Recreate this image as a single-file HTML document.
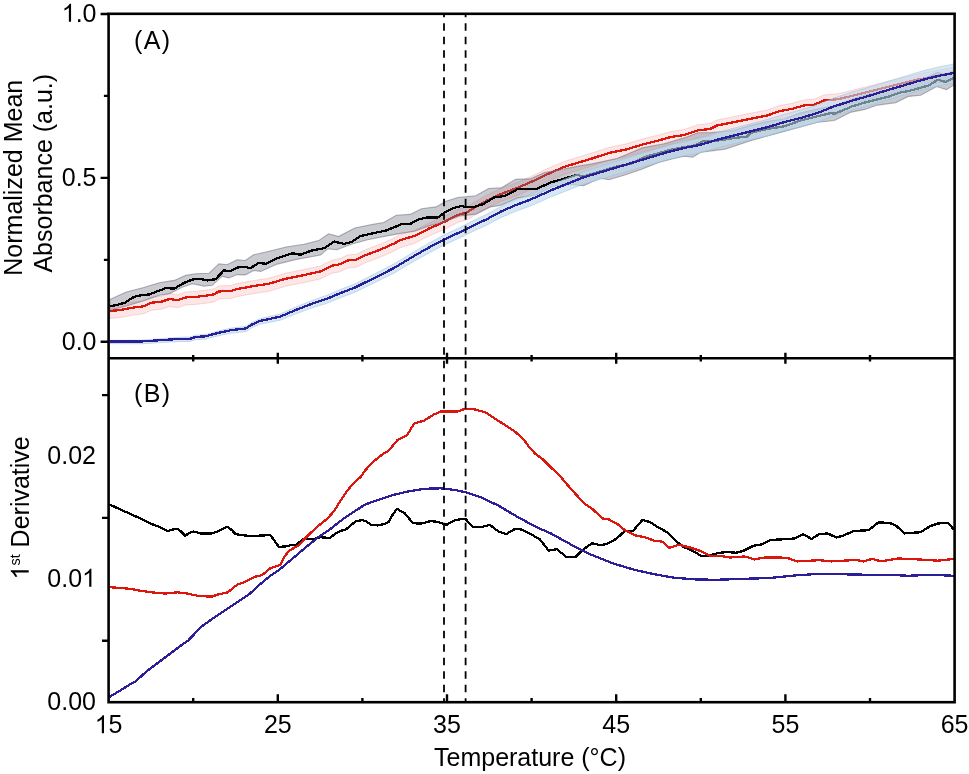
<!DOCTYPE html><html><head><meta charset="utf-8"><title>Chart</title><style>html,body{margin:0;padding:0;background:#fff;}svg{display:block;will-change:transform;}</style></head><body><svg width="969" height="774" viewBox="0 0 969 774">
<rect width="969" height="774" fill="#fff"/>
<defs><clipPath id="ca"><rect x="108.6" y="13.8" width="846" height="344.4"/></clipPath><clipPath id="cb"><rect x="108.6" y="358.2" width="846" height="344"/></clipPath></defs>
<g clip-path="url(#ca)">
<polygon points="109.9,305.4 119.8,304.6 133.0,302.1 143.8,300.8 151.2,297.2 161.1,296.3 169.4,293.5 177.6,294.7 185.9,291.9 195.8,291.4 205.7,290.2 213.9,288.9 218.9,285.9 230.4,285.6 237.1,283.6 248.6,281.5 260.0,279.5 268.1,278.5 286.2,273.1 304.2,269.5 320.5,265.9 331.4,260.4 340.4,258.6 347.6,255.0 356.7,254.1 365.7,249.6 380.2,244.2 394.6,237.8 400.0,234.8 414.5,230.3 428.9,223.1 443.4,216.8 457.9,209.5 466.9,206.8 475.9,201.4 486.8,195.1 501.2,188.4 517.5,182.4 533.8,175.2 544.6,169.8 550.0,167.6 563.4,161.7 576.9,157.5 592.0,153.0 608.8,147.5 625.6,144.1 642.3,139.1 659.1,134.9 670.9,131.5 684.3,129.5 697.8,124.8 710.0,123.5 716.8,120.1 733.6,116.7 750.4,113.3 767.2,110.0 778.9,105.8 792.3,103.3 804.1,99.9 814.2,99.1 824.2,94.9 838.0,93.7 852.4,90.3 864.8,87.2 877.2,84.1 889.5,81.0 901.9,77.9 914.3,74.8 926.7,72.4 939.1,70.0 954.0,67.3 954.0,80.3 939.1,83.0 926.7,85.4 914.3,87.8 901.9,90.9 889.5,94.0 877.2,97.1 864.8,100.2 852.4,103.3 838.0,106.7 824.2,107.9 814.2,112.1 804.1,112.9 792.3,116.3 778.9,118.8 767.2,123.0 750.4,126.3 733.6,129.7 716.8,133.1 710.0,136.5 697.8,137.8 684.3,142.5 670.9,144.5 659.1,147.9 642.3,152.1 625.6,157.1 608.8,160.5 592.0,166.0 576.9,170.5 563.4,174.7 550.0,180.6 544.6,182.8 533.8,188.2 517.5,195.4 501.2,201.4 486.8,208.1 475.9,214.4 466.9,219.8 457.9,222.5 443.4,229.8 428.9,236.1 414.5,243.3 400.0,247.8 394.6,250.8 380.2,257.2 365.7,262.6 356.7,267.1 347.6,268.0 340.4,271.6 331.4,273.4 320.5,278.9 304.2,282.5 286.2,286.1 268.1,291.5 260.0,292.5 248.6,294.5 237.1,296.6 230.4,298.6 218.9,298.9 213.9,301.9 205.7,303.2 195.8,304.4 185.9,304.9 177.6,307.7 169.4,306.5 161.1,309.3 151.2,310.2 143.8,313.8 133.0,315.1 119.8,317.6 109.9,318.4" fill="rgb(240,130,130)" fill-opacity="0.2" stroke="rgb(240,150,150)" stroke-opacity="0.35" stroke-width="1"/>
<polyline points="109.9,310.9 119.8,310.1 133.0,307.6 143.8,306.3 151.2,302.7 161.1,301.8 169.4,299.0 177.6,300.2 185.9,297.4 195.8,296.9 205.7,295.7 213.9,294.4 218.9,291.4 230.4,291.1 237.1,289.1 248.6,287.0 260.0,285.0 268.1,284.0 286.2,278.6 304.2,275.0 320.5,271.4 331.4,265.9 340.4,264.1 347.6,260.5 356.7,259.6 365.7,255.1 380.2,249.7 394.6,243.3 400.0,240.3 414.5,235.8 428.9,228.6 443.4,222.3 457.9,215.0 466.9,212.3 475.9,206.9 486.8,200.6 501.2,193.9 517.5,187.9 533.8,180.7 544.6,175.3 550.0,173.1 563.4,167.2 576.9,163.0 592.0,158.5 608.8,153.0 625.6,149.6 642.3,144.6 659.1,140.4 670.9,137.0 684.3,135.0 697.8,130.3 710.0,129.0 716.8,125.6 733.6,122.2 750.4,118.8 767.2,115.5 778.9,111.3 792.3,108.8 804.1,105.4 814.2,104.6 824.2,100.4 838.0,99.2 852.4,95.8 864.8,92.7 877.2,89.6 889.5,86.5 901.9,83.4 914.3,80.3 926.7,77.9 939.1,75.5 954.0,72.8" fill="none" stroke="#dc160c" stroke-width="2.3" stroke-linejoin="round" shape-rendering="crispEdges"/>
<polygon points="109.9,299.4 126.4,291.9 142.9,287.8 159.4,282.8 174.3,280.4 185.9,275.4 195.8,273.8 209.0,273.3 218.9,263.9 227.1,264.7 237.1,259.7 245.3,260.5 253.6,254.8 268.1,251.5 286.2,247.0 304.2,244.2 318.7,240.6 328.6,233.8 338.6,236.6 354.9,228.0 372.9,224.4 383.8,222.5 396.4,215.3 410.0,214.4 421.7,208.7 436.2,206.9 445.2,201.5 457.9,197.5 475.9,195.7 488.6,188.5 501.2,187.9 515.7,179.4 530.2,178.9 544.6,172.5 560.0,169.8 576.9,166.4 592.0,163.9 617.2,158.5 642.3,147.9 664.2,143.7 684.3,137.9 697.8,132.8 710.0,132.8 734.0,130.5 750.0,125.5 767.0,121.5 784.0,119.0 800.0,113.0 817.0,109.0 834.0,106.0 852.0,99.0 865.0,95.0 877.0,92.0 890.0,89.0 909.0,83.5 920.0,80.5 937.8,72.3 945.0,74.5 954.0,70.5 954.0,84.7 946.5,89.6 936.6,86.5 920.5,95.2 908.1,96.4 895.7,102.6 877.2,105.1 864.8,109.4 851.1,112.1 834.3,120.5 817.5,122.2 784.0,131.4 750.4,140.7 725.2,149.1 701.1,152.1 692.7,157.2 684.3,156.3 675.9,158.0 659.1,162.2 642.3,168.9 625.6,174.8 608.8,179.8 600.4,178.1 583.6,185.7 570.0,184.5 553.7,186.0 535.6,195.1 517.5,197.9 501.2,205.1 490.4,206.9 475.9,214.1 459.7,215.9 443.4,222.3 428.9,225.9 414.5,231.3 400.1,233.4 385.6,236.1 367.5,239.7 351.2,244.2 336.8,249.7 327.7,248.8 320.5,255.1 295.2,259.6 277.1,264.1 260.8,271.4 253.6,270.5 245.3,274.9 237.1,274.6 228.8,277.9 222.2,276.2 212.3,285.3 204.0,286.1 192.5,283.7 182.6,287.0 169.4,293.6 159.4,295.2 142.9,301.0 126.4,306.0 109.9,310.1" fill="rgb(110,115,130)" fill-opacity="0.37" stroke="rgb(110,110,125)" stroke-opacity="0.55" stroke-width="1.1"/>
<polyline points="109.9,306.3 116.5,305.1 124.8,302.7 133.9,296.9 141.3,295.2 149.5,294.4 157.8,291.1 166.0,288.1 174.3,288.6 184.2,282.8 192.5,279.5 199.1,278.7 207.3,280.4 215.6,279.2 223.8,270.5 230.4,271.0 237.1,267.6 245.3,266.7 250.3,268.3 258.5,263.0 266.3,263.8 277.1,258.3 292.5,253.3 300.6,254.7 311.5,250.6 324.1,248.2 334.1,241.5 344.0,243.9 351.2,242.1 360.3,236.1 376.6,232.5 385.6,230.7 394.6,227.1 401.9,224.0 409.9,224.1 418.1,219.6 427.1,217.4 438.0,217.4 445.2,212.3 454.2,207.8 461.5,206.0 466.9,207.3 474.1,206.9 483.2,204.2 494.0,197.5 504.9,196.0 517.5,189.2 535.6,189.2 544.6,185.2 551.9,182.0 563.4,179.0 576.9,174.8 583.6,176.5 600.4,171.4 617.2,166.4 630.6,163.9 644.0,157.2 657.5,153.5 670.9,149.6 684.3,147.1 694.4,145.4 702.8,141.2 716.8,140.7 733.6,138.1 747.0,136.5 750.4,133.1 767.2,128.9 784.0,126.4 800.7,120.5 817.5,116.3 831.0,113.0 834.3,113.8 842.7,110.4 852.4,106.3 864.8,102.6 877.2,99.5 889.5,96.4 899.4,92.7 909.3,90.9 920.5,87.8 929.2,85.3 937.8,79.7 945.3,81.9 954.0,77.9" fill="none" stroke="#000" stroke-width="2.3" stroke-linejoin="round" shape-rendering="crispEdges"/>
<polygon points="109.9,340.4 141.3,340.2 166.0,338.3 180.0,337.3 190.3,337.0 195.5,335.3 205.8,334.5 211.0,333.0 221.3,330.3 231.6,328.1 246.0,326.3 252.2,322.3 260.5,318.5 267.7,316.9 280.0,314.1 295.2,307.3 311.5,300.7 327.7,295.0 340.4,289.5 354.9,283.9 367.5,277.5 380.2,271.1 394.6,263.6 400.0,260.3 414.5,251.4 428.9,243.2 443.4,235.3 457.9,228.5 472.3,221.1 486.8,214.3 501.2,206.4 515.7,199.9 530.2,194.4 544.6,187.8 550.0,185.2 566.8,178.3 583.6,171.5 600.4,166.3 617.2,161.0 634.0,155.9 650.7,150.7 667.5,145.4 684.3,141.1 697.8,138.4 710.0,134.9 716.8,132.6 733.6,128.3 750.4,123.9 767.2,119.5 784.0,114.4 800.7,110.0 817.5,104.8 834.3,97.9 840.0,96.1 852.4,92.0 864.8,88.5 877.2,84.7 889.5,80.9 901.9,77.2 914.3,73.4 926.7,69.8 939.1,66.9 954.0,63.9 954.0,82.9 939.1,85.7 926.7,88.6 914.3,92.0 901.9,95.6 889.5,99.3 877.2,102.9 864.8,106.7 852.4,110.0 840.0,113.9 834.3,115.5 817.5,122.2 800.7,127.0 784.0,131.0 767.2,135.9 750.4,139.9 733.6,143.9 716.8,148.0 710.0,150.1 697.8,153.4 684.3,155.7 667.5,159.8 650.7,164.7 634.0,169.5 617.2,174.4 600.4,179.3 583.6,184.1 566.8,190.7 550.0,197.2 544.6,199.8 530.2,206.0 515.7,211.3 501.2,217.4 486.8,225.1 472.3,231.7 457.9,238.7 443.4,245.3 428.9,253.0 414.5,261.0 400.0,269.5 394.6,272.8 380.2,279.9 367.5,286.1 354.9,292.3 340.4,297.7 327.7,303.0 311.5,308.1 295.2,314.1 280.0,320.3 267.7,322.7 260.5,324.1 252.2,327.5 246.0,331.5 231.6,333.1 221.3,335.1 211.0,337.6 205.8,339.1 195.5,339.7 190.3,341.4 180.0,341.5 166.0,342.3 141.3,343.8 109.9,343.6" fill="rgb(185,218,238)" fill-opacity="0.6" stroke="rgb(150,190,220)" stroke-opacity="0.5" stroke-width="1"/>
<polyline points="109.9,341.5 141.3,341.5 166.0,339.8 180.0,338.9 190.3,338.7 195.5,337.0 205.8,336.3 211.0,334.8 221.3,332.2 231.6,330.1 246.0,328.4 252.2,324.4 260.5,320.8 267.7,319.3 280.0,316.7 295.2,310.2 311.5,303.9 327.7,298.5 340.4,293.1 354.9,287.6 367.5,281.3 380.2,275.0 394.6,267.7 400.0,264.4 414.5,255.7 428.9,247.6 443.4,239.8 457.9,233.1 472.3,225.9 486.8,219.2 501.2,211.4 515.7,205.1 530.2,199.7 544.6,193.3 550.0,190.7 566.8,184.0 583.6,177.3 600.4,172.3 617.2,167.2 634.0,162.2 650.7,157.2 667.5,152.1 684.3,147.9 697.8,145.4 710.0,142.0 716.8,139.8 733.6,135.6 750.4,131.4 767.2,127.2 784.0,122.2 800.7,118.0 817.5,113.0 834.3,106.2 840.0,104.5 852.4,100.5 864.8,97.1 877.2,93.3 889.5,89.6 901.9,85.9 914.3,82.2 926.7,78.7 939.1,75.8 954.0,72.9" fill="none" stroke="#2c1e96" stroke-width="2.3" stroke-linejoin="round" shape-rendering="crispEdges"/>
</g>
<g clip-path="url(#cb)">
<polyline points="109.3,504.3 120.1,509.4 134.1,515.6 152.7,524.4 162.0,528.0 167.4,531.1 172.8,529.5 177.5,528.7 180.6,531.1 185.2,535.7 189.9,532.6 193.8,531.5 200.7,533.4 211.6,533.4 217.8,531.5 224.0,528.0 227.8,526.9 231.7,530.0 235.6,534.2 244.1,535.4 250.0,535.9 264.3,535.5 270.2,534.7 274.4,540.6 278.9,546.9 285.3,546.4 290.3,545.3 296.2,544.8 300.4,541.4 303.8,538.9 308.8,539.2 313.8,538.9 320.6,537.2 323.9,537.5 329.8,538.0 335.7,533.5 340.7,530.8 345.7,529.6 350.8,525.4 355.8,521.2 362.5,520.1 365.9,521.2 370.9,524.6 377.7,525.4 384.4,524.1 388.6,522.1 392.8,514.5 397.0,508.9 404.7,513.2 412.4,522.5 417.9,523.7 422.5,523.3 431.0,521.0 438.0,522.0 446.5,524.8 455.0,520.2 465.1,518.6 472.8,526.7 482.9,526.7 489.8,524.8 498.4,531.5 506.1,534.1 515.4,528.7 521.6,529.5 529.3,533.3 540.0,539.5 548.6,550.5 556.8,549.2 566.1,556.7 575.4,557.1 582.6,549.9 591.9,543.3 601.2,545.3 608.4,543.3 616.7,538.5 624.9,530.9 633.2,530.7 642.5,519.9 649.7,522.0 658.0,527.2 667.3,532.3 674.5,539.5 682.7,546.8 691.0,549.9 701.3,556.0 709.6,555.6 717.8,553.0 727.4,552.0 736.1,552.8 743.5,550.8 753.4,545.8 760.9,544.6 769.5,540.4 777.0,539.6 786.9,539.1 794.3,538.4 803.0,534.2 811.6,538.9 819.1,534.2 827.7,533.4 836.4,537.6 843.8,535.4 853.7,531.0 868.6,530.2 878.5,522.3 889.7,523.0 895.9,525.5 904.5,533.4 920.6,532.2 930.5,526.0 938.0,523.5 947.9,522.8 954.0,529.7" fill="none" stroke="#000" stroke-width="2.3" stroke-linejoin="round" shape-rendering="crispEdges"/>
<polyline points="109.3,587.2 120.1,587.9 131.0,588.9 140.3,590.7 154.2,592.6 165.1,593.5 177.5,592.3 186.8,593.5 199.2,596.1 211.6,596.6 217.8,594.6 227.8,592.3 232.5,588.4 237.1,584.8 244.1,582.2 250.0,579.1 255.0,576.7 260.9,575.5 265.1,572.8 270.2,568.3 275.2,566.6 280.2,564.9 283.6,558.2 288.6,551.0 293.7,548.1 298.7,545.6 303.8,539.7 310.5,533.0 318.9,525.4 327.3,518.7 334.0,511.2 340.0,501.5 347.0,490.9 355.5,481.2 360.9,476.7 365.2,470.3 373.6,461.4 382.0,454.7 388.7,450.5 397.1,440.4 406.4,435.7 409.7,431.2 413.9,423.6 424.0,420.6 434.1,414.4 440.8,411.5 457.6,411.5 465.1,408.8 474.4,409.3 480.0,410.9 485.0,412.1 493.4,417.6 505.2,425.2 515.3,431.9 523.7,439.5 530.4,448.7 535.4,453.8 542.2,458.8 550.6,467.2 559.0,474.8 567.4,484.8 575.7,494.1 584.1,503.3 592.6,509.2 602.6,518.4 609.3,519.6 617.7,524.3 624.9,530.2 635.3,535.4 645.6,537.5 653.8,540.6 662.1,541.6 669.3,547.8 678.6,544.7 691.0,547.8 701.3,551.3 710.6,556.0 720.0,555.7 729.9,557.5 744.8,556.5 754.7,559.4 764.6,557.5 786.9,557.7 796.8,561.4 819.1,560.2 831.5,561.4 856.2,559.9 863.7,561.4 872.3,558.9 881.0,561.4 898.3,558.5 918.1,559.4 938.0,560.7 954.0,558.9" fill="none" stroke="#dc160c" stroke-width="2.3" stroke-linejoin="round" shape-rendering="crispEdges"/>
<polyline points="109.3,696.9 118.6,691.5 131.0,683.8 135.6,681.4 146.5,671.4 155.8,664.4 168.2,655.1 180.6,645.8 188.3,640.4 196.1,632.2 202.3,626.0 211.6,619.4 224.0,610.9 234.8,603.9 244.1,597.7 250.0,593.5 260.1,584.2 270.2,575.8 280.2,569.1 292.0,559.0 303.8,549.0 317.2,538.0 330.6,528.8 342.0,519.8 352.0,513.0 365.2,504.5 378.0,500.0 392.0,495.3 407.2,491.6 424.0,488.8 440.8,488.3 455.0,490.0 467.7,492.8 479.4,496.7 490.0,501.7 498.4,505.5 513.8,514.8 529.3,523.3 540.0,528.7 550.6,533.3 571.3,544.7 591.9,555.0 612.6,563.3 633.2,569.5 653.8,574.2 674.5,577.7 695.1,579.4 715.8,579.8 744.8,578.8 769.5,578.0 794.3,575.5 819.1,573.8 843.8,574.3 868.6,574.8 893.4,575.0 908.2,575.8 930.5,574.8 954.0,575.8" fill="none" stroke="#2c1e96" stroke-width="2.3" stroke-linejoin="round" shape-rendering="crispEdges"/>
</g>
<line x1="444.0" y1="13.8" x2="444.0" y2="702.2" stroke="#000" stroke-width="1.8" stroke-dasharray="7.5 6" stroke-dashoffset="4"/>
<line x1="465.6" y1="13.8" x2="465.6" y2="702.2" stroke="#000" stroke-width="1.8" stroke-dasharray="7.5 6" stroke-dashoffset="4"/>
<rect x="108.6" y="13.8" width="846.0" height="688.4000000000001" fill="none" stroke="#000" stroke-width="2.6"/>
<line x1="108.6" y1="358.2" x2="954.6" y2="358.2" stroke="#000" stroke-width="2.6"/>
<path d="M100.6,14.0H108.6M103.9,95.9H108.6M100.6,177.9H108.6M103.9,259.9H108.6M100.6,341.8H108.6M102.0,640.8H108.6M102.0,517.9H108.6M102.0,395.1H108.6M193.2,702.2V698.0M193.2,355.0V361.4M277.8,702.2V694.2M277.8,352.7V363.7M362.4,702.2V698.0M362.4,355.0V361.4M447.0,702.2V694.2M447.0,352.7V363.7M531.6,702.2V698.0M531.6,355.0V361.4M616.2,702.2V694.2M616.2,352.7V363.7M700.8,702.2V698.0M700.8,355.0V361.4M785.4,702.2V694.2M785.4,352.7V363.7M870.0,702.2V698.0M870.0,355.0V361.4" stroke="#000" stroke-width="2.4" fill="none"/>
<text x="96.5" y="21.8" font-size="25" text-anchor="end" style='font-family:"Liberation Sans", sans-serif;' fill="#000">.0</text>
<path d="M71.06,21.80L68.87,21.80L68.87,7.80Q68.07,8.56 66.78,9.31Q65.49,10.07 64.46,10.45L64.46,8.32Q66.30,7.46 67.68,6.22Q69.06,4.99 69.64,3.83L71.06,3.83Z" fill="#000"/>
<text x="96.5" y="185.7" font-size="25" text-anchor="end" style='font-family:"Liberation Sans", sans-serif;' fill="#000">0.5</text>
<text x="96.5" y="349.9" font-size="25" text-anchor="end" style='font-family:"Liberation Sans", sans-serif;' fill="#000">0.0</text>
<text x="96.0" y="463.8" font-size="25" text-anchor="end" style='font-family:"Liberation Sans", sans-serif;' fill="#000">0.02</text>
<text x="82.1" y="586.8" font-size="25" text-anchor="end" style='font-family:"Liberation Sans", sans-serif;' fill="#000">0.0</text>
<path d="M91.41,586.80L89.22,586.80L89.22,572.80Q88.42,573.56 87.13,574.31Q85.84,575.07 84.81,575.45L84.81,573.32Q86.65,572.46 88.03,571.22Q89.41,569.99 89.99,568.83L91.41,568.83Z" fill="#000"/>
<text x="96.0" y="709.8" font-size="25" text-anchor="end" style='font-family:"Liberation Sans", sans-serif;' fill="#000">0.00</text>
<path d="M104.01,733.20L101.82,733.20L101.82,719.20Q101.02,719.96 99.73,720.71Q98.44,721.47 97.41,721.85L97.41,719.72Q99.25,718.86 100.63,717.62Q102.01,716.39 102.59,715.23L104.01,715.23Z" fill="#000"/>
<text x="108.60" y="733.2" font-size="25" text-anchor="start" style='font-family:"Liberation Sans", sans-serif;' fill="#000">5</text>
<text x="277.8" y="733.2" font-size="25" text-anchor="middle" style='font-family:"Liberation Sans", sans-serif;' fill="#000">25</text>
<text x="447.0" y="733.2" font-size="25" text-anchor="middle" style='font-family:"Liberation Sans", sans-serif;' fill="#000">35</text>
<text x="616.2" y="733.2" font-size="25" text-anchor="middle" style='font-family:"Liberation Sans", sans-serif;' fill="#000">45</text>
<text x="785.4" y="733.2" font-size="25" text-anchor="middle" style='font-family:"Liberation Sans", sans-serif;' fill="#000">55</text>
<text x="954.6" y="733.2" font-size="25" text-anchor="middle" style='font-family:"Liberation Sans", sans-serif;' fill="#000">65</text>
<text x="434.0" y="766.3" font-size="25" text-anchor="start" style='font-family:"Liberation Sans", sans-serif;' fill="#000">Temperature (°C)</text>
<text x="134.0" y="48.9" font-size="25" text-anchor="start" style='font-family:"Liberation Sans", sans-serif;' fill="#000" letter-spacing="1.4">(A)</text>
<text x="134.0" y="401.7" font-size="25" text-anchor="start" style='font-family:"Liberation Sans", sans-serif;' fill="#000" letter-spacing="1.4">(B)</text>
<text transform="translate(21.7,275.7) rotate(-90)" font-size="25" style='font-family:"Liberation Sans", sans-serif;'>Normalized Mean</text>
<text transform="translate(51.6,272.6) rotate(-90)" font-size="25" style='font-family:"Liberation Sans", sans-serif;'>Absorbance (a.u.)</text>
<g transform="translate(28.7,579.5) rotate(-90)"><path d="M9.31,0.00L7.12,0.00L7.12,-14.00Q6.32,-13.24 5.03,-12.49Q3.74,-11.73 2.71,-11.35L2.71,-13.48Q4.55,-14.34 5.93,-15.58Q7.31,-16.81 7.89,-17.97L9.31,-17.97Z" fill="#000"/><text x="13.90" y="0" font-size="25" style='font-family:"Liberation Sans", sans-serif;'><tspan font-size="14.5" dy="-8.4">st</tspan><tspan dy="8.4"> Derivative</tspan></text></g>
</svg></body></html>
